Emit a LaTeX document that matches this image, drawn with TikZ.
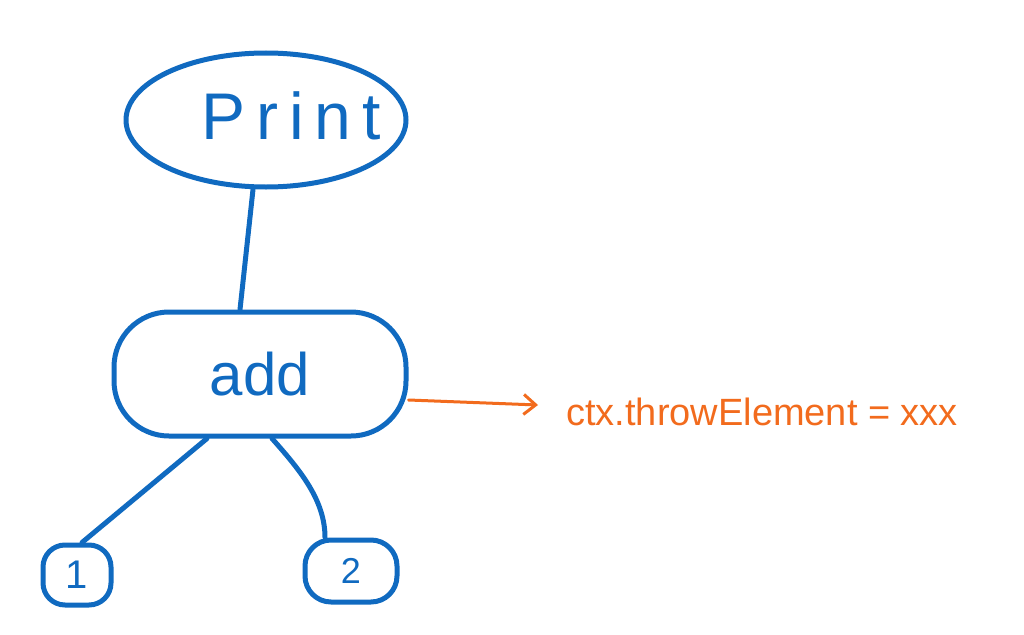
\documentclass[tikz,border=0pt]{standalone}
\usepackage{fontspec}
\setmainfont{Liberation Sans}
\usetikzlibrary{shapes.geometric,arrows.meta}
\definecolor{inkblue}{RGB}{16,106,192}
\definecolor{inkorange}{RGB}{242,107,29}
\begin{document}
\begin{tikzpicture}[x=1pt,y=-1pt,
  ink/.style={draw=inkblue,line width=5pt,line cap=round,line join=round},
  blob/.style={ink,inner sep=0pt,text=inkblue},
  edge/.style={ink},
  note/.style={text=inkorange,inner sep=0pt}]
\useasboundingbox (0,0) rectangle (1024,634);
\node[blob,ellipse,minimum width=280pt,minimum height=134pt] (print) at (266,120) {};
\node[text=inkblue,inner sep=0pt,font=\fontsize{66}{66}\selectfont] (printlabel) at (291,116) {P\,r\,i\,n\,t};
\node[blob,rounded corners=55pt,minimum width=292pt,minimum height=124pt,font=\fontsize{60}{60}\selectfont] (add) at (260,374) {add};
\node[blob,rounded corners=22pt,minimum width=68pt,minimum height=60pt,font=\fontsize{40}{40}\selectfont] (one) at (77,575) {1};
\node[blob,rounded corners=26pt,minimum width=92pt,minimum height=62pt,font=\fontsize{36}{36}\selectfont] (two) at (351,571) {2};
\node[note,anchor=west,font=\fontsize{38}{38}\selectfont] (ctx) at (566,412) {ctx.throwElement = xxx};
\draw[edge] ([xshift=-13pt]print.south) -- ([xshift=-20pt]add.north);
\draw[edge] ([xshift=-53pt]add.south) -- ([xshift=5pt]one.north);
\draw[edge] ([xshift=12pt]add.south) .. controls (300,470) and (325,500) .. ([xshift=-26pt]two.north);
\draw[draw=inkorange,line width=3pt,line cap=round,-{Straight Barb[length=12pt,width=20pt]}] ([yshift=-26pt]add.east) -- ([xshift=-28pt,yshift=7pt]ctx.west);
\end{tikzpicture}
\end{document}
